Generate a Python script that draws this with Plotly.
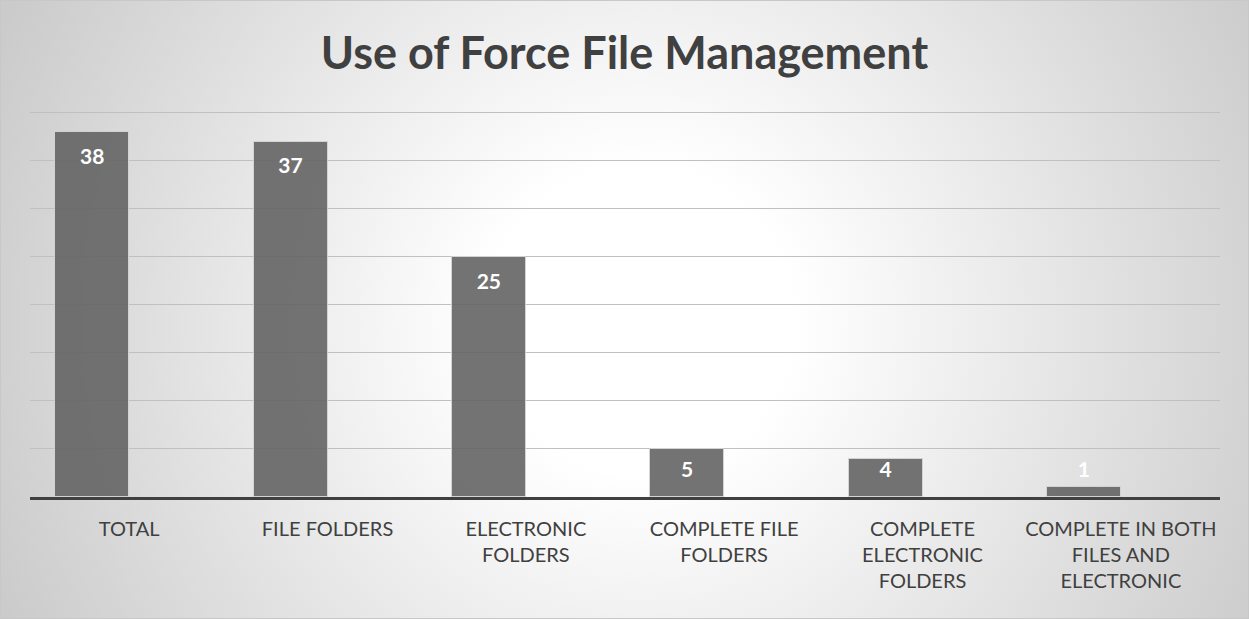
import base64
import plotly.graph_objects as go

categories = ["TOTAL", "FILE FOLDERS", "ELECTRONIC<br>FOLDERS", "COMPLETE FILE<br>FOLDERS",
              "COMPLETE<br>ELECTRONIC<br>FOLDERS", "COMPLETE IN BOTH<br>FILES AND<br>ELECTRONIC"]
values = [38, 37, 25, 5, 4, 1]
y_ticks = [0, 5, 10, 15, 20, 25, 30, 35, 40]

W, H = 1249, 619
ML, MR, MT, MB = 30, 29, 108, 122
PW, PH = W - ML - MR, H - MT - MB

svg = f'''<svg xmlns="http://www.w3.org/2000/svg" width="{W}" height="{H}" viewBox="0 0 {W} {H}">
<defs><radialGradient id="g" gradientUnits="userSpaceOnUse" cx="640" cy="320" r="700">
<stop offset="0" stop-color="#ffffff"/><stop offset="0.22" stop-color="#ffffff"/>
<stop offset="1" stop-color="#cbcbcb"/></radialGradient></defs>
<rect x="0" y="0" width="{W}" height="{H}" fill="url(#g)"/>
<rect x="0.5" y="0.5" width="{W-1}" height="{H-1}" fill="none" stroke="#c8c8c8" stroke-width="1"/>
</svg>'''
src = "data:image/svg+xml;base64," + base64.b64encode(svg.encode()).decode()

xs = list(range(len(categories)))
bw = 0.373

fig = go.Figure()
fig.add_trace(go.Bar(
    x=xs, y=values, width=bw, offset=-bw,
    marker=dict(color="rgba(100,100,100,0.9)", line=dict(color="rgba(215,215,215,0.9)", width=1)),
    hoverinfo="skip", showlegend=False,
))
label_y = [max(v - 2.75, 2.6) for v in values]
fig.add_trace(go.Scatter(
    x=[x - bw / 2 for x in xs], y=label_y, mode="text",
    text=[str(v) for v in values],
    textfont=dict(family="Lato", size=21, color="white", weight="bold"),
    hoverinfo="skip", showlegend=False, cliponaxis=False,
))

fig.update_layout(
    width=W, height=H,
    margin=dict(l=ML, r=MR, t=MT, b=MB, autoexpand=False),
    paper_bgcolor="rgba(0,0,0,0)", plot_bgcolor="rgba(0,0,0,0)",
    title=dict(text="<b>Use of Force File Management</b>", x=0.5, xanchor="center",
               y=1 - 53 / H, yanchor="middle",
               font=dict(family="Lato", size=45, color="#404040")),
    images=[dict(source=src, xref="paper", yref="paper",
                 x=-ML / PW, y=1 + MT / PH, sizex=W / PW, sizey=H / PH,
                 xanchor="left", yanchor="top", sizing="stretch", layer="below")],
    bargap=0,
    xaxis=dict(range=[-0.5, 5.5], tickvals=xs, ticktext=categories,
               showgrid=False, zeroline=False, showline=True, linecolor="#404040", linewidth=3,
               ticks="outside", ticklen=12, tickcolor="rgba(0,0,0,0)",
               tickfont=dict(family="Lato", size=20, color="#404040"), fixedrange=True),
    yaxis=dict(range=[0, 40.5], tickvals=y_ticks, showticklabels=False,
               showgrid=True, gridcolor="#c0c0c0", gridwidth=1, zeroline=False, fixedrange=True),
)

fig.write_html("out.html")
